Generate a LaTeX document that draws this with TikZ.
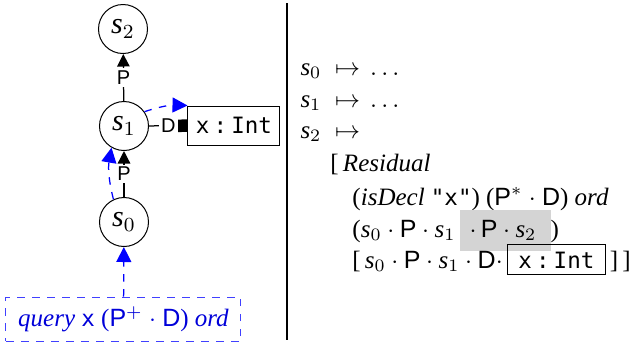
\documentclass[tikz,border=0pt]{standalone}
\usepackage{fontspec}
\setmainfont{Liberation Serif}
\setsansfont{Liberation Sans}
\setmonofont[Scale=0.9]{DejaVu Sans Mono}
\usetikzlibrary{arrows.meta, positioning, calc}

\newcommand{\lblP}{\textsf{P}}
\newcommand{\lblD}{\textsf{D}}
\newcommand{\sv}[1]{\mathit{s}_{#1}}
\newcommand{\xint}{\texttt{x}\,\texttt{:}\,\texttt{Int}}
\newcommand{\mapsline}[1]{$\sv{#1}$\hspace{5.5pt}$\mapsto$\hspace{4pt}}

\begin{document}
\begin{tikzpicture}[
    x=0.4pt, y=-0.4pt,
    >={Triangle[length=5pt, width=5pt]},
    scopenode/.style={draw, circle, minimum size=49*0.4pt, inner sep=0pt, font=\large},
    decl/.style={draw, rectangle, minimum height=39*0.4pt, minimum width=92*0.4pt, inner sep=2pt},
    pedge/.style={->, line width=0.5pt, black},
    lbl/.style={fill=white, inner sep=1pt, font=\footnotesize\sffamily},
    resol/.style={->, dashed, blue, line width=0.5pt, >={Triangle[length=6pt, width=6pt]}},
    qbox/.style={draw=blue!75, dashed, text=blue!85!black, minimum height=44*0.4pt, minimum width=235*0.4pt, inner sep=2pt},
    resline/.style={anchor=base west, inner sep=0pt}
  ]
    \useasboundingbox (0,0) rectangle (629,343);
    % scope graph
    \node[scopenode] (s2) at (123,29) {$\sv{2}$};
    \node[scopenode] (s1) at (124,126) {$\sv{1}$};
    \node[scopenode] (s0) at (124,222) {$\sv{0}$};
    \node[decl] (dx) at (234,125.5) {\xint};
    \node[qbox] (query) at (123.5,319) {\textit{query} \texttt{x} (\textsf{P}$^{+}$ $\cdot$ \textsf{D}) \textit{ord}};
    \draw[pedge] (s0) -- node[lbl] {\lblP} (s1);
    \draw[pedge] (s1) -- node[lbl] {\lblP} (s2);
    \draw[line width=0.5pt, -{Square[length=4pt, width=5pt]}] (s1) -- node[lbl] {\lblD} (dx);
    % resolution path
    \draw[resol] (query) -- (s0);
    \draw[resol] (s0.115) to[bend left=12] (s1.240);
    \draw[resol] (s1.35) to[bend left=10] (dx.north west);
    % separator
    \coordinate (septop) at (287,3);
    \coordinate (sepbot) at (287,340);
    \draw[line width=0.6pt] (septop) -- (sepbot);
    % resolution result
    \node[resline] (r0) at (300,75) {\mapsline{0}$\ldots$};
    \node[resline] (r1) at (300,107) {\mapsline{1}$\ldots$};
    \node[resline] (r2) at (300,138) {\mapsline{2}};
    \node[resline] (r3) at (330,171) {[\,\textit{Residual}};
    \node[resline] (r4) at (352,205) {(\textit{isDecl} \texttt{"x"}) (\textsf{P}$^{*}$ $\cdot$ \textsf{D}) \textit{ord}};
    \node[resline] (r5) at (352,237) {($\sv{0}\cdot\textsf{P}\cdot \sv{1}$\,\setlength{\fboxsep}{4pt}\colorbox{black!17}{$\cdot\,\textsf{P}\cdot \sv{2}$\,})};
    \node[resline] (r6) at (352,268) {[\,$\sv{0}\cdot\textsf{P}\cdot \sv{1}\cdot\textsf{D}\cdot$\,\setlength{\fboxsep}{2.5pt}\fbox{\,\xint\,}\,]\,]};
\end{tikzpicture}
\end{document}
